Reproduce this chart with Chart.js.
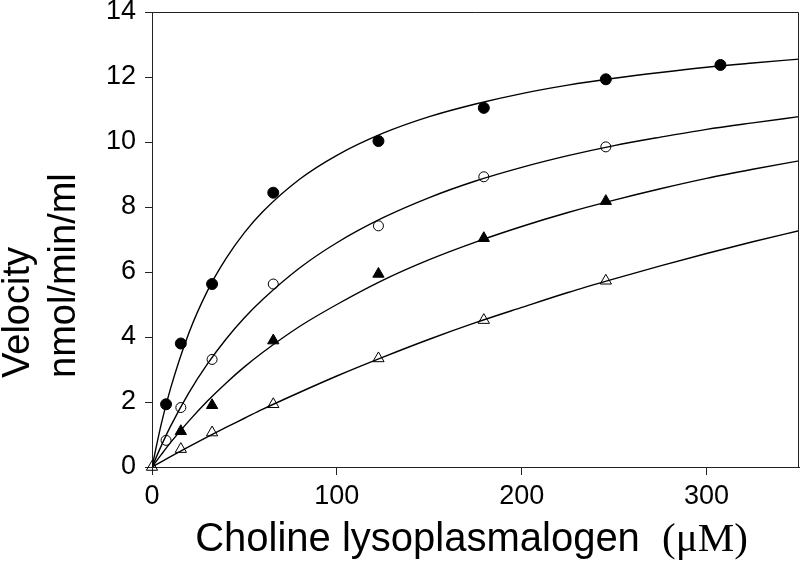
<!DOCTYPE html>
<html><head><meta charset="utf-8">
<script src="https://cdn.jsdelivr.net/npm/chart.js@4.4.1/dist/chart.umd.min.js"></script>
<style>html,body{margin:0;padding:0;background:#fff}#wrap{width:800px;height:572px}</style>
</head><body><div id="wrap"><canvas id="c" width="800" height="572"></canvas></div>
<script>
// ---- data ----
const xTickValues = [0, 100, 200, 300];
const yTickValues = [0, 2, 4, 6, 8, 10, 12, 14];
const xTitleMain = 'Choline lysoplasmalogen';
const xTitleUnit = '(\u03bcM)';
const yTitleLine1 = 'Velocity';
const yTitleLine2 = 'nmol/min/ml';

// measured points (substrate concentration, velocity)
const concA = [7.6, 15.6, 32.5, 65.6, 122.5, 179.5, 245.5, 307.5];
const velFilledCircle = [1.93, 3.8, 5.63, 8.44, 10.03, 11.05, 11.93, 12.37];
const concB = [7.6, 15.6, 32.5, 65.6, 122.5, 179.5, 245.5];
const velOpenCircle = [0.82, 1.83, 3.31, 5.63, 7.42, 8.93, 9.85];
const concC = [15.6, 32.5, 65.6, 122.5, 179.5, 245.5];
const velFilledTriangle = [1.1, 1.9, 3.89, 5.94, 7.04, 8.18];
const concD = [0, 15.6, 32.5, 65.6, 122.5, 179.5, 245.5];
const velOpenTriangle = [0, 0.55, 1.06, 1.93, 3.34, 4.52, 5.73];

// fitted curves
const curveX = [0, 5, 10, 20, 30, 40, 50, 60, 80, 100, 125, 150, 175, 200, 225, 250, 275, 300, 325, 350];
const curveFilledCircle = [0, 1.32, 2.41, 4.13, 5.42, 6.41, 7.21, 7.86, 8.86, 9.59, 10.27, 10.78, 11.17, 11.49, 11.75, 11.96, 12.14, 12.30, 12.43, 12.55];
const curveOpenCircle = [0, 0.65, 1.25, 2.29, 3.17, 3.93, 4.59, 5.16, 6.13, 6.90, 7.67, 8.29, 8.80, 9.22, 9.58, 9.89, 10.15, 10.39, 10.59, 10.78];
const curveFilledTriangle = [0, 0.38, 0.75, 1.42, 2.03, 2.58, 3.08, 3.53, 4.33, 5.0, 5.75, 6.38, 6.92, 7.40, 7.83, 8.21, 8.56, 8.88, 9.16, 9.42];
const curveOpenTriangle = [0, 0.16, 0.32, 0.63, 0.93, 1.22, 1.50, 1.78, 2.30, 2.80, 3.38, 3.93, 4.44, 4.91, 5.37, 5.79, 6.19, 6.57, 6.93, 7.27];

const pairs = (xs, ys) => xs.map((x, i) => ({x: x, y: ys[i]}));

function markers(xs, ys, style, fill, r) {
  return {type: 'line', data: pairs(xs, ys), showLine: false, order: 0, clip: false,
    pointStyle: style, pointRadius: r, pointBackgroundColor: fill,
    pointBorderColor: '#000', pointBorderWidth: 1, pointHoverRadius: r};
}
function curve(ys) {
  return {type: 'line', data: pairs(curveX, ys), order: 1, borderColor: '#000',
    borderWidth: 1.4, pointRadius: 0, fill: false, cubicInterpolationMode: 'monotone'};
}

const frameAndTitles = {
  id: 'frameAndTitles',
  afterDraw(chart) {
    const ctx = chart.ctx, a = chart.chartArea;
    ctx.save();
    ctx.strokeStyle = '#222'; ctx.lineWidth = 1;
    ctx.beginPath();
    ctx.moveTo(a.left, a.top + 0.5); ctx.lineTo(a.right - 0.5, a.top + 0.5);
    ctx.lineTo(a.right - 0.5, a.bottom);
    ctx.stroke();
    ctx.fillStyle = '#000';
    // x title: sans part + serif unit
    const sans = '40px "Liberation Sans", Arial, sans-serif';
    const serif = '41px "Liberation Serif", "Times New Roman", serif';
    ctx.font = sans; const w1 = ctx.measureText(xTitleMain + '  ').width;
    ctx.font = serif; const w2 = ctx.measureText(xTitleUnit).width;
    const cx = (a.left + a.right) / 2 - 4;
    const x0 = cx - (w1 + w2) / 2;
    ctx.textBaseline = 'alphabetic'; ctx.textAlign = 'left';
    ctx.font = sans; ctx.fillText(xTitleMain + '  ', x0, 551);
    ctx.font = serif; ctx.fillText(xTitleUnit, x0 + w1, 551);
    // y title, two lines starting at the same point
    ctx.font = '38px "Liberation Sans", Arial, sans-serif';
    [[yTitleLine1, 29], [yTitleLine2, 75]].forEach(([t, bx]) => {
      ctx.save(); ctx.translate(bx, 378); ctx.rotate(-Math.PI / 2);
      ctx.fillText(t, 0, 0); ctx.restore();
    });
    ctx.restore();
  }
};

const tickFont = {family: '"Liberation Sans", Arial, sans-serif', size: 27};

new Chart(document.getElementById('c'), {
  type: 'line',
  data: {datasets: [
    markers(concD, velOpenTriangle, 'triangle', 'rgba(0,0,0,0)', 6.5),
    markers(concC, velFilledTriangle, 'triangle', '#000', 6.5),
    markers(concB, velOpenCircle, 'circle', 'rgba(0,0,0,0)', 5),
    markers(concA, velFilledCircle, 'circle', '#000', 5.5),
    curve(curveFilledCircle), curve(curveOpenCircle),
    curve(curveFilledTriangle), curve(curveOpenTriangle)
  ]},
  options: {
    responsive: false, animation: false, devicePixelRatio: 1,
    layout: {autoPadding: false, padding: {top: 12, right: 1, left: 0, bottom: 0}},
    plugins: {legend: {display: false}, tooltip: {enabled: false}},
    scales: {
      x: {type: 'linear', min: 0, max: 350,
        afterBuildTicks: s => { s.ticks = xTickValues.map(v => ({value: v})); },
        afterFit: s => { s.height = 105; s.paddingLeft = 0; s.paddingRight = 0; },
        ticks: {font: tickFont, color: '#000', padding: 5, maxRotation: 0},
        grid: {drawOnChartArea: false, tickLength: 8, color: '#222'},
        border: {color: '#222', width: 1},
        title: {display: false}},
      y: {type: 'linear', min: 0, max: 14,
        afterBuildTicks: s => { s.ticks = yTickValues.map(v => ({value: v})); },
        afterFit: s => { s.width = 152; s.paddingTop = 0; s.paddingBottom = 0; },
        ticks: {font: tickFont, color: '#000', padding: 9},
        grid: {drawOnChartArea: false, tickLength: 7, color: '#222'},
        border: {color: '#222', width: 1},
        title: {display: false}}
    }
  },
  plugins: [frameAndTitles]
});
</script></body></html>
